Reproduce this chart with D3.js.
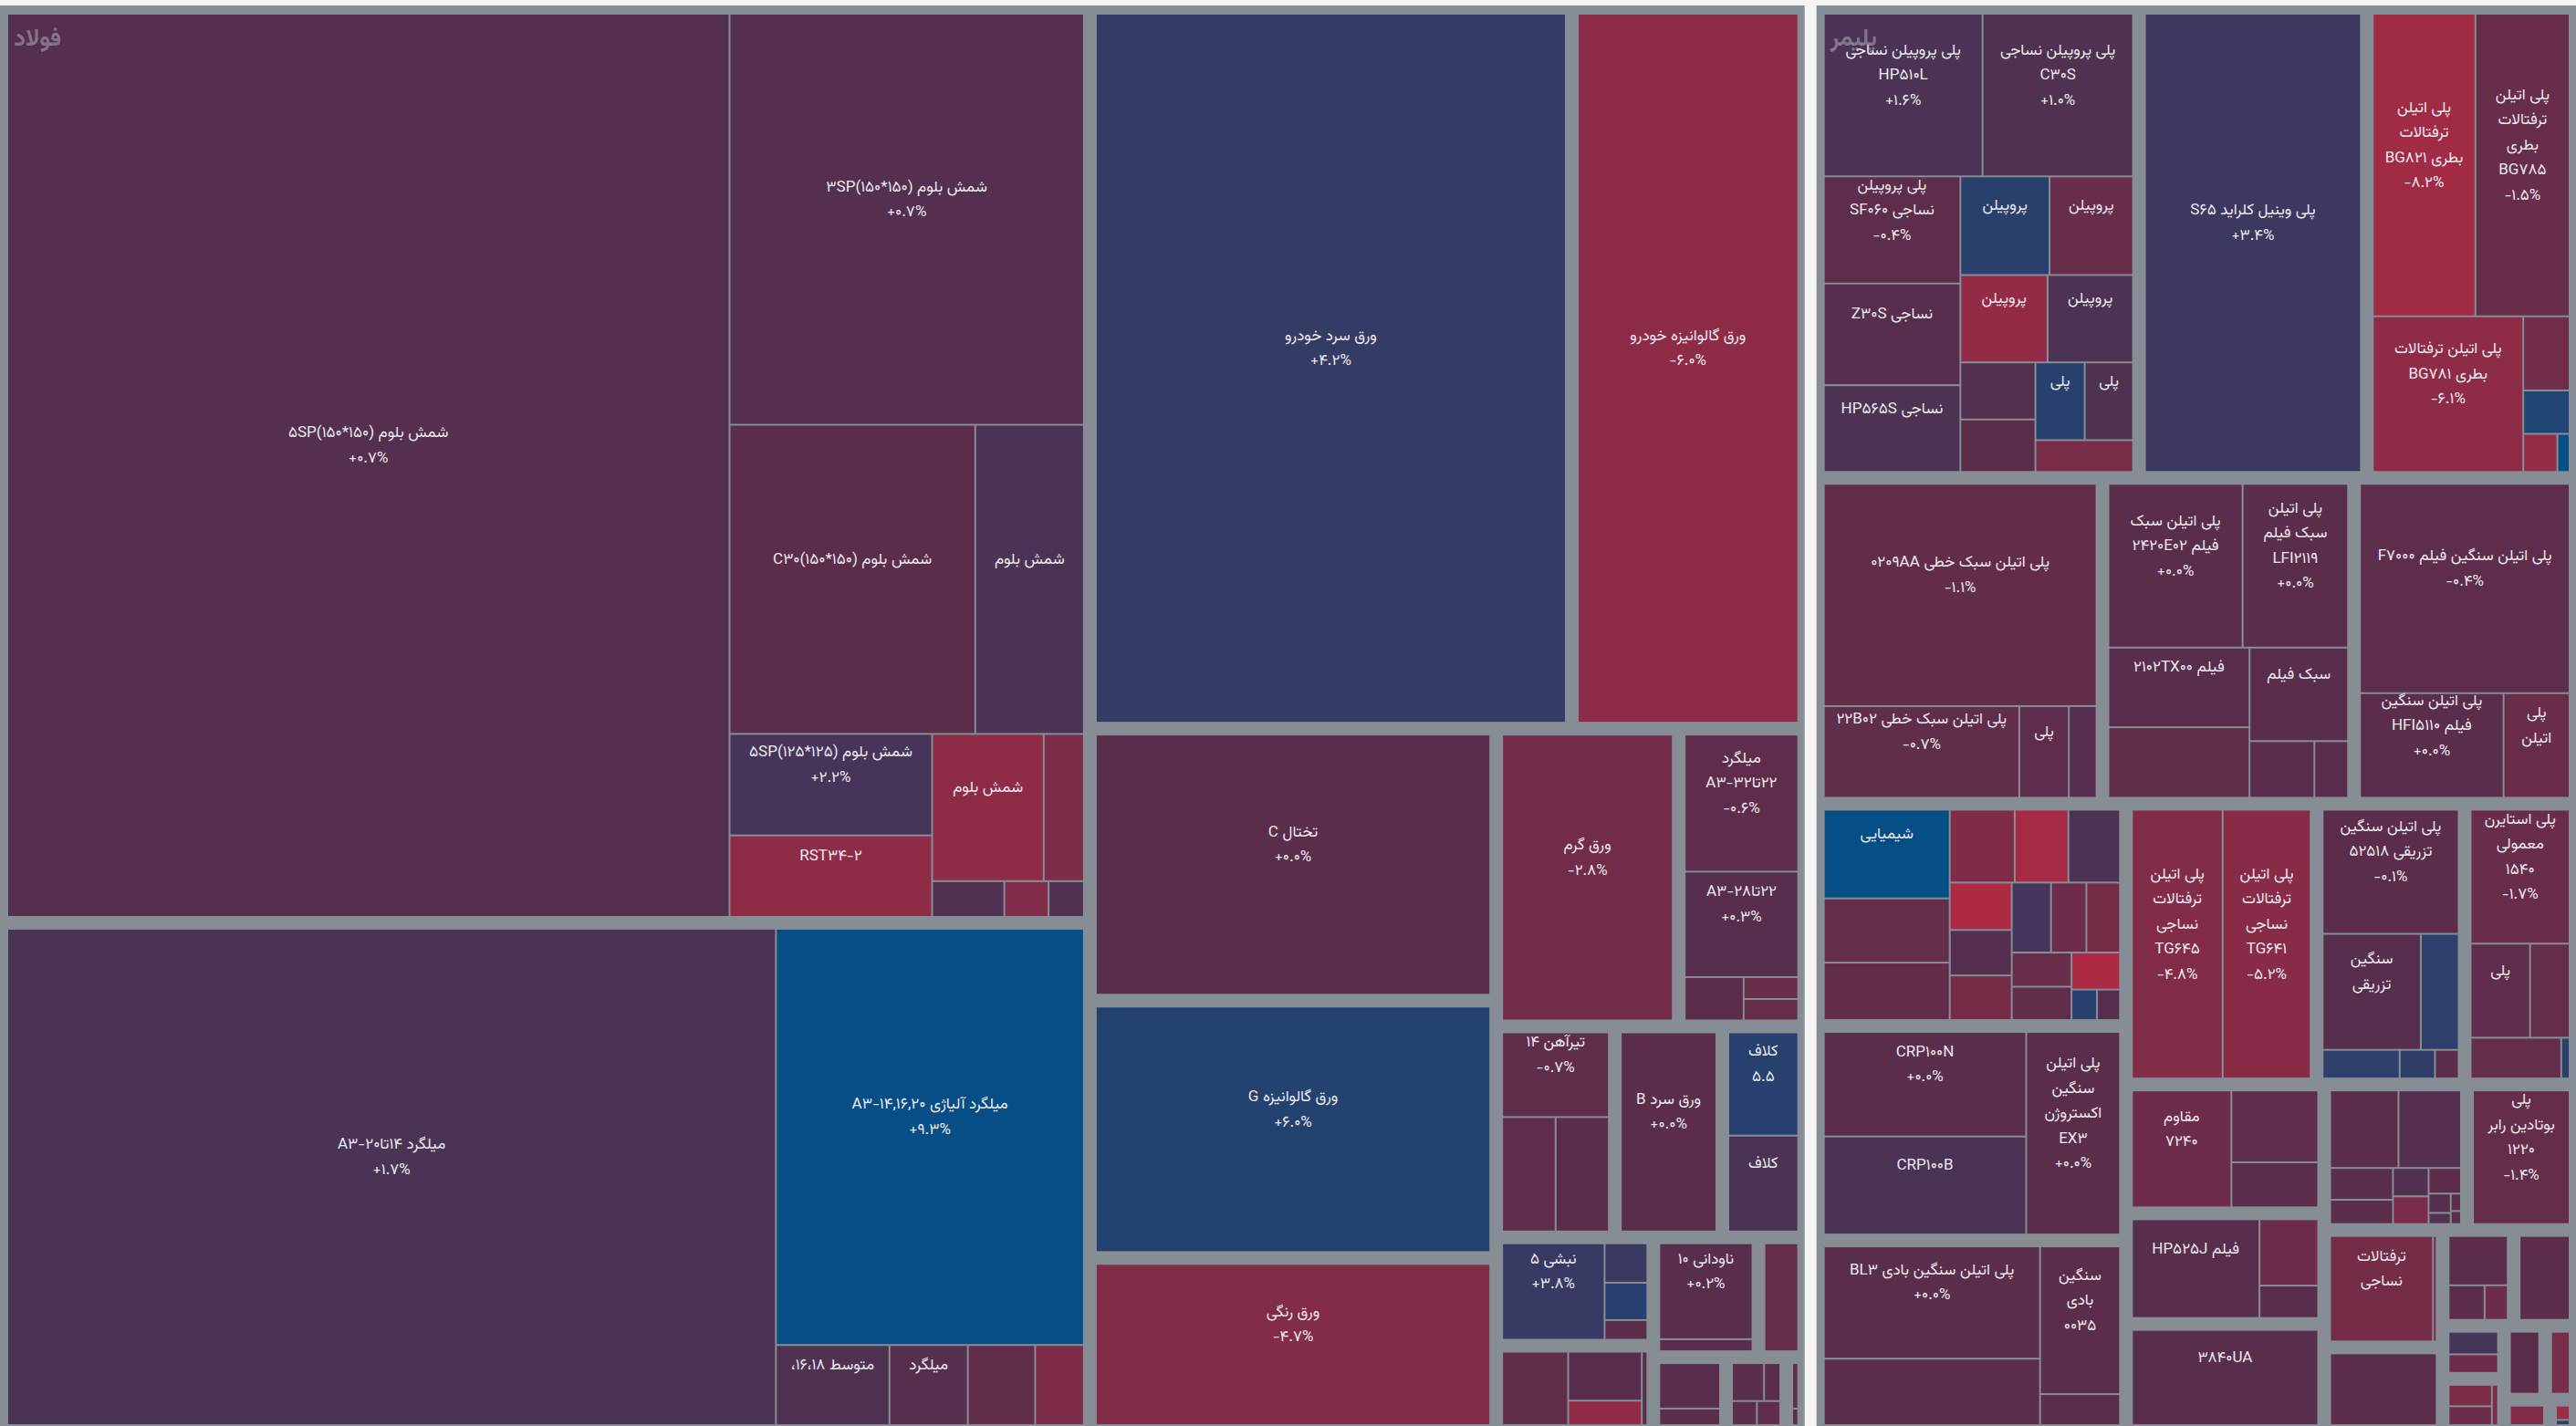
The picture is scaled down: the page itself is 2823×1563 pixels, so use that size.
<!DOCTYPE html>
<html>
<head>
<meta charset="utf-8">
<script src="https://cdn.jsdelivr.net/npm/d3@7/dist/d3.min.js"></script>
<style>
  html, body { margin: 0; padding: 0; background: #f4f4f4; }
  svg { display: block; }
</style>
</head>
<body>
<svg id="chart" width="2823" height="1563"></svg>
<script>
// Each item: [label (lines split by \n), traded value, daily change %, show change]

// ---- فولاد ----
const billets = [
  ["شمش بلوم (۱۵۰*۱۵۰)۵SP", 2477.3, 0.7, 1],
  ["شمش بلوم (۱۵۰*۱۵۰)۳SP", 553.3, 0.7, 1],
  ["شمش بلوم (۱۵۰*۱۵۰)C۳۰", 288.5, -0.1, 0],
  ["شمش بلوم", 127.6, 1.7, 0],
  ["شمش بلوم (۱۲۵*۱۲۵)۵SP", 78.1, 2.2, 1],
  ["RST۳۴-۲", 62.7, -6.0, 0],
  ["شمش بلوم", 62.4, -6.1, 0],
  ["", 22.5, -3.8, 0],
  ["", 9.8, 1.0, 0],
  ["", 6.0, -4.5, 0],
  ["", 4.8, 1.2, 0]
];
const rebar = [
  ["میلگرد ۱۴تا۲۰-A۳", 1464.3, 1.7, 1],
  ["میلگرد آلیاژی ۱۴,۱۶,۲۰-A۳", 492.0, 9.3, 1],
  ["متوسط ۱۶،۱۸،", 34.9, 1.2, 0],
  ["میلگرد", 24.1, 0.5, 0],
  ["", 20.7, -0.8, 0],
  ["", 15.0, -4.0, 0]
];
const coldAuto = [["ورق سرد خودرو", 1288.2, 4.2, 1]];
const galvAuto = [["ورق گالوانیزه خودرو", 621.0, -6.0, 1]];
const slab = [["تختال C", 409.8, 0.0, 1]];
const galvG = [["ورق گالوانیزه G", 387.7, 6.0, 1]];
const coated = [["ورق رنگی", 260.7, -4.7, 1]];
const hotRolled = [["ورق گرم", 201.5, -2.8, 1]];
const rebarA3 = [
  ["میلگرد\n۲۲تا۳۲-A۳", 66.4, -0.6, 1],
  ["۲۲تا۲۸-A۳", 51.1, 0.3, 1],
  ["", 10.9, -0.2, 0],
  ["", 5.1, -2.0, 0],
  ["", 5.0, -1.3, 0]
];
const beams = [["تیرآهن ۱۴", 39.5, -0.7, 1], ["", 26.7, -0.6, 0], ["", 26.6, -0.2, 0]];
const coldB = [["ورق سرد B", 84.1, 0.0, 1]];
const coils = [["کلاف\n۵.۵", 33.2, 5.8, 0], ["کلاف", 30.8, 1.7, 0]];
const angles = [["نبشی ۵", 44.5, 3.8, 1], ["", 7.6, 3.6, 0], ["", 7.2, 5.8, 0], ["", 3.8, -0.1, 0]];
const steelMisc1 = [["", 22.6, -0.7, 0], ["", 16.8, 0.2, 0], ["", 8.4, -6.5, 0], ["", 1.9, 0.2, 0]];
const channels = [["ناودانی ۱۰", 41.5, 0.2, 1], ["", 5.2, 0.1, 0]];
const steelMisc2 = [["", 20.3, -1.2, 0]];
const steelMisc3 = [["", 14.6, 0.2, 0], ["", 5.3, 0.0, 0]];
const steelMisc4 = [["", 6.7, 0.0, 0], ["", 3.4, -0.1, 0], ["", 3.3, 0.0, 0], ["", 3.1, -0.6, 0]];
const steelMisc5 = [["", 3.6, -1.2, 0], ["", 1.3, 0.0, 0]];

// ---- پلیمر ----
const polypropylene = [
  ["پلی پروپیلن نساجی\nHP۵۱۰L", 103.1, 1.6, 1],
  ["پلی پروپیلن نساجی\nC۳۰S", 97.7, 1.0, 1],
  ["پلی پروپیلن\nنساجی SF۰۶۰", 58.4, -0.4, 1],
  ["نساجی Z۳۰S", 55.4, 0.3, 0],
  ["نساجی HP۵۶۵S", 47.3, 1.5, 0],
  ["پروپیلن", 35.1, 5.3, 0],
  ["پروپیلن", 32.9, -1.6, 0],
  ["پروپیلن", 30.4, -6.8, 0],
  ["پروپیلن", 29.8, 1.5, 0],
  ["", 17.1, 0.8, 0],
  ["", 15.7, -0.1, 0],
  ["پلی", 15.3, 5.7, 0],
  ["پلی", 15.0, 1.2, 0],
  ["", 12.4, -3.5, 0]
];
const pvc = [["پلی وینیل کلراید S۶۵", 401.3, 3.4, 1]];
const petBottle = [
  ["پلی اتیلن\nترفتالات\nبطری BG۸۲۱", 126.5, -8.2, 1],
  ["پلی اتیلن\nترفتالات\nبطری\nBG۷۸۵", 116.2, -1.5, 1],
  ["پلی اتیلن ترفتالات\nبطری BG۷۸۱", 95.4, -6.1, 1],
  ["", 14.0, -2.7, 0],
  ["", 8.2, 6.5, 0],
  ["", 5.3, -7.0, 0],
  ["", 1.9, 9.5, 0]
];
const lldpe = [
  ["پلی اتیلن سبک خطی ۰۲۰۹AA", 246.0, -1.1, 1],
  ["پلی اتیلن سبک خطی ۲۲B۰۲", 72.7, -0.7, 1],
  ["پلی", 18.4, -0.3, 0],
  ["", 10.3, 0.3, 0]
];
const ldpe = [
  ["پلی اتیلن سبک\nفیلم ۲۴۲۰E۰۲", 89.7, 0.0, 1],
  ["پلی اتیلن\nسبک فیلم\nLFI۲۱۱۹", 70.5, 0.0, 1],
  ["فیلم ۲۱۰۲TX۰۰", 45.9, 0.1, 0],
  ["", 40.6, -0.9, 0],
  ["سبک فیلم", 37.6, 0.1, 0],
  ["", 15.0, 0.1, 0],
  ["", 7.8, 0.1, 0]
];
const hdpeFilm = [
  ["پلی اتیلن سنگین فیلم F۷۰۰۰", 180.3, -0.4, 1],
  ["پلی اتیلن سنگین\nفیلم HFI۵۱۱۰", 61.7, 0.0, 1],
  ["پلی\nاتیلن", 28.4, -1.7, 0]
];
const chemicals = [
  ["شیمیایی", 46.0, 9.5, 0], ["", 33.3, -1.2, 0], ["", 29.8, -1.0, 0],
  ["", 19.5, -4.3, 0], ["", 16.1, -8.8, 0], ["", 15.5, 1.5, 0],
  ["", 12.1, -9.8, 0], ["", 11.6, 0.6, 0], ["", 11.4, -3.2, 0],
  ["", 11.3, 2.5, 0], ["", 10.2, -2.2, 0], ["", 9.7, -3.0, 0],
  ["", 8.4, -1.5, 0], ["", 8.2, -0.8, 0], ["", 7.4, -9.5, 0],
  ["", 3.2, 5.5, 0], ["", 2.9, 0.4, 0]
];
const crp = [
  ["CRP۱۰۰N", 87.3, 0.0, 1],
  ["CRP۱۰۰B", 81.8, 1.7, 0],
  ["پلی اتیلن\nسنگین\nاکستروژن\nEX۳", 78.4, 0.0, 1]
];
const blowMolding = [
  ["پلی اتیلن سنگین بادی BL۳", 100.9, 0.0, 1],
  ["", 59.7, -0.2, 0],
  ["سنگین\nبادی\n۰۰۳۵", 49.1, -0.2, 0],
  ["", 10.3, -0.2, 0]
];
const petTextile = [
  ["پلی اتیلن\nترفتالات\nنساجی\nTG۶۴۵", 101.8, -4.8, 1],
  ["پلی اتیلن\nترفتالات\nنساجی\nTG۶۴۱", 98.7, -5.2, 1]
];
const injection = [
  ["پلی اتیلن سنگین\nتزریقی ۵۲۵۱۸", 71.9, -0.1, 1],
  ["سنگین\nتزریقی", 48.5, 0.3, 0],
  ["", 18.7, 5.0, 0],
  ["", 9.4, 5.0, 0],
  ["", 4.3, 4.8, 0],
  ["", 2.9, -0.2, 0]
];
const polystyrene = [
  ["پلی استایرن\nمعمولی\n۱۵۴۰", 58.1, -1.7, 1],
  ["پلی", 24.5, -0.6, 0],
  ["", 16.3, -1.2, 0],
  ["", 16.2, -1.2, 0],
  ["", 1.5, 5.3, 0]
];
const resistant = [["مقاوم\n۷۲۴۰", 51.1, -2.2, 0], ["", 27.4, -0.5, 0], ["", 17.2, -0.2, 0]];
const film525 = [["فیلم HP۵۲۵J", 56.2, 0.1, 0], ["", 17.4, -2.2, 0], ["", 8.5, 0.1, 0]];
const ua = [["۳۸۴۰UA", 79.5, 0.1, 0]];
const polyMisc1 = [
  ["", 23.6, -0.1, 0], ["", 21.6, 0.7, 0], ["", 8.9, 0.1, 0], ["", 6.8, -0.1, 0],
  ["", 4.5, 0.9, 0], ["", 4.4, -3.8, 0], ["", 3.7, -0.1, 0], ["", 1.9, 0.4, 0],
  ["", 1.1, 0.9, 0], ["", 0.8, -0.1, 0], ["", 0.6, 0.2, 0]
];
const butadiene = [["پلی\nبوتادین رابر\n۱۲۲۰", 59.2, -1.4, 1]];
const petTextile2 = [["ترفتالات\nنساجی", 50.3, -3.0, 0], ["", 1.8, -4.0, 0]];
const polyMisc2 = [["", 37.1, -0.1, 0]];
const polyMisc3 = [["", 15.0, -0.1, 0], ["", 6.4, -0.1, 0], ["", 4.1, -2.2, 0]];
const polyMisc4 = [["", 22.2, -0.1, 0]];
const polyMisc5 = [["", 6.7, 2.2, 0], ["", 5.5, -2.2, 0]];
const polyMisc6 = [["", 5.6, -4.0, 0], ["", 4.9, -2.2, 0], ["", 1.5, -4.0, 0]];
const polyMisc7 = [["", 11.4, -0.1, 0]];
const polyMisc8 = [["", 8.4, -3.5, 0]];
const polyMisc9 = [["", 5.4, -4.7, 0]];
const polyMisc10 = [["", 2.2, -8.2, 0], ["", 0.8, 5.0, 0]];

const sectorNames = ["فولاد", "پلیمر"];
const sectorGroups = [
  [billets, rebar, coldAuto, galvAuto, slab, galvG, coated, hotRolled, rebarA3, beams,
   coldB, coils, angles, steelMisc1, channels, steelMisc2, steelMisc3, steelMisc4, steelMisc5],
  [polypropylene, pvc, petBottle, lldpe, ldpe, hdpeFilm, chemicals, crp, blowMolding,
   petTextile, injection, polystyrene, resistant, film525, ua, polyMisc1, butadiene,
   petTextile2, polyMisc2, polyMisc3, polyMisc4, polyMisc5, polyMisc6, polyMisc7,
   polyMisc8, polyMisc9, polyMisc10]
];

const W = 2823, H = 1563;
const FONT = "Vazirmatn, 'Noto Sans Arabic', 'DejaVu Sans', sans-serif";
const faDigits = "۰۱۲۳۴۵۶۷۸۹";
const toFa = s => s.replace(/\d/g, d => faDigits[+d]);
const fmtChange = v => (v < 0 ? "-" : "+") + toFa(Math.abs(v).toFixed(1)) + "%";

// diverging colour: red (falling) – plum (flat) – blue (rising)
const color = d3.scaleLinear()
  .domain([-10, 0, 10])
  .range(["#b02a44", "#5a2d4b", "#005089"])
  .clamp(true);

const tree = {
  name: "بازار",
  children: sectorGroups.map((groups, i) => ({
    name: sectorNames[i],
    children: groups.map(items => ({
      children: items.map(([label, value, change, show]) => ({ label, value, change, show }))
    }))
  }))
};

const root = d3.hierarchy(tree)
  .sum(d => d.children ? 0 : d.value)
  .sort((a, b) => b.value - a.value);

const pad = (arr) => (n) => arr[n.depth] ?? 0;
d3.treemap()
  .size([W, H])
  .tile(d3.treemapSquarify)
  .paddingTop(pad([6, 10, 0]))
  .paddingLeft(pad([0, 9, 0]))
  .paddingRight(pad([0, 8, 0]))
  .paddingBottom(pad([0, 2, 0]))
  .paddingInner(pad([13, 15, 2]))(root);

const svg = d3.select("#chart");

// sector panels
const sectors = svg.append("g").selectAll("rect")
  .data(root.children)
  .join("rect")
  .attr("x", d => d.x0).attr("y", d => d.y0)
  .attr("width", d => d.x1 - d.x0).attr("height", d => d.y1 - d.y0)
  .attr("fill", "#868d95");

// leaf tiles
const leaves = root.leaves();
svg.append("g").selectAll("rect")
  .data(leaves)
  .join("rect")
  .attr("x", d => d.x0).attr("y", d => d.y0)
  .attr("width", d => Math.max(0, d.x1 - d.x0))
  .attr("height", d => Math.max(0, d.y1 - d.y0))
  .attr("fill", d => color(d.data.change));

// sector titles
svg.append("g").selectAll("text")
  .data(root.children)
  .join("text")
  .attr("x", d => d.x0 + 15)
  .attr("y", d => d.y0 + 44)
  .attr("font-family", FONT)
  .attr("font-size", 26)
  .attr("font-weight", "bold")
  .attr("fill", "rgba(200,200,212,0.45)")
  .text(d => d.data.name);

// tile labels: name lines, then change line, block centred slightly above the middle
const LH = 27.5;
const labelled = leaves.filter(d => d.data.label || d.data.show);
const lg = svg.append("g")
  .attr("font-family", FONT)
  .attr("font-size", 17)
  .attr("fill", "#ece9ef")
  .attr("text-anchor", "middle");

labelled.forEach(d => {
  const lines = d.data.label ? d.data.label.split("\n").map(t => ({ t, rtl: true })) : [];
  if (d.data.show) lines.push({ t: fmtChange(d.data.change), rtl: false });
  const cx = (d.x0 + d.x1) / 2, cy = (d.y0 + d.y1) / 2 - 21;
  const n = lines.length;
  lines.forEach((ln, i) => {
    lg.append("text")
      .attr("x", cx)
      .attr("y", cy + (i - (n - 1) / 2) * LH)
      .attr("dominant-baseline", "central")
      .attr("direction", ln.rtl ? "rtl" : "ltr")
      .style("unicode-bidi", "embed")
      .text(ln.t);
  });
});
</script>
</body>
</html>
